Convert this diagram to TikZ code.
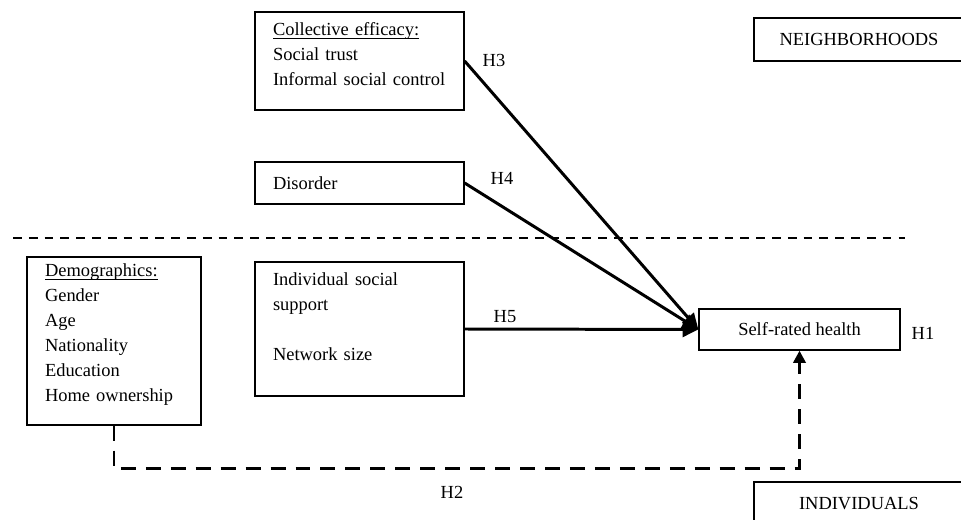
\documentclass[tikz,border=0pt]{standalone}
\usepackage{fontspec}
\setmainfont{Liberation Serif}
\usetikzlibrary{arrows.meta, positioning}

\begin{document}
\begin{tikzpicture}[x=0.02cm, y=-0.02cm,
    font=\fontsize{10.5}{14.2}\selectfont,
    box/.style={draw, line width=0.75pt, inner xsep=0.36cm, inner ysep=0pt, align=left},
    cbox/.style={draw, line width=0.75pt, inner sep=0pt, align=center},
    path/.style={line width=1.7pt, -{Triangle[length=9pt, width=8.5pt]}},
    dpath/.style={line width=1.7pt, dash pattern=on 8.5pt off 5.7pt, -{Triangle[length=7pt, width=7pt]}},
    sep/.style={line width=1.1pt, dash pattern=on 5pt off 4pt}]
\clip (0,0) rectangle (961,520);
\node[box, text width=3.46cm, minimum height=1.96cm] (collective) at (359.5,61)
    {\underline{\smash{Collective efficacy:}}\\Social trust\\Informal social control};
\node[box, text width=3.46cm, minimum height=0.84cm] (disorder) at (359.5,183) {Disorder};
\node[box, text width=3.46cm, minimum height=2.68cm] (support) at (359.5,329)
    {Individual social\\support\\[14.2pt]Network size\\\mbox{}};
\node[box, text width=2.76cm, minimum height=3.36cm] (demo) at (114,341)
    {\underline{\smash{Demographics:}}\\Gender\\Age\\Nationality\\Education\\Home ownership};
\node[cbox, minimum width=4.02cm, minimum height=0.82cm] (health) at (799.5,329.5) {Self-rated health};
\node[cbox, minimum width=4.2cm, minimum height=0.86cm] (hood) at (859,39.5) {NEIGHBORHOODS};
\node[cbox, minimum width=4.2cm, minimum height=0.86cm] (indiv) at (859,503.5) {INDIVIDUALS};
% hypotheses
\node (h1) at (923,333) {H1};
\node (h2) at (452,492) {H2};
\node (h3) at (494,60) {H3};
\node (h4) at (502,178) {H4};
\node (h5) at (505,317) {H5};
% level divider
\draw[sep] (13,238) -- (905,238);
\draw[path] (collective.east) -- (health.west);
\draw[path] (disorder.east) -- (health.west);
\draw[path] (support.east) -- (health.west);
\draw[dpath] (demo.south) -- ++(0,43) -| (health.south);
\end{tikzpicture}
\end{document}
